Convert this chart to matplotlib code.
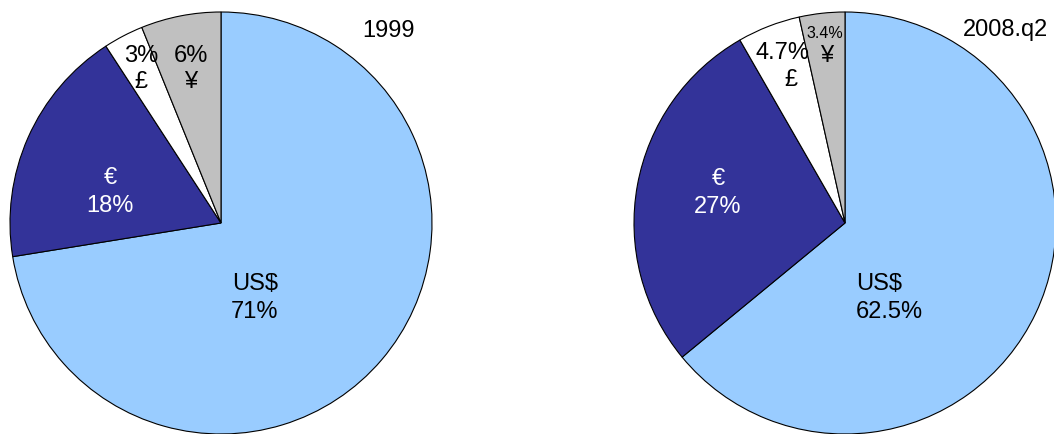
import matplotlib
matplotlib.use("Agg")
import matplotlib.pyplot as plt

plt.rcParams['font.family'] = ['Liberation Sans', 'DejaVu Sans']

currencies = ['US$', '€', '£', '¥']
shares_1999 = [71, 18, 3, 6]
shares_2008 = [62.5, 27, 4.7, 3.4]
titles = ['1999', '2008.q2']

colors = ['#99CCFF', '#333399', '#FFFFFF', '#C0C0C0']
text_colors = ['black', 'white', 'black', 'black']

W, H = 1054, 435
R = 211
centers = [(221, 224), (845, 224)]
FS = 17


def px(cx, cy, x, y):
    # pixel position -> pie data coords
    return (x - cx) / R, (cy - y) / R


fig = plt.figure(figsize=(W / 100, H / 100), dpi=100)

# label anchor points in pixels for the big slices
label_px = [
    {'US$': (255, 298), '€': (110, 192), '£': (141, 69), '¥': (191, 69)},
    {'US$': (856, 298), '€': (718, 193)},
]
spacing = {'US$': 1.38, '€': 1.38, '£': 1.25, '¥': 1.25}

for k, (shares, title) in enumerate(zip([shares_1999, shares_2008], titles)):
    cx, cy = centers[k]
    ax = fig.add_axes([(cx - R) / W, (H - cy - R) / H, 2 * R / W, 2 * R / H])
    ax.pie(shares, colors=colors, startangle=90, counterclock=False,
           radius=1, wedgeprops=dict(edgecolor='black', linewidth=0.8))
    ax.set_xlim(-1, 1)
    ax.set_ylim(-1, 1)
    ax.set_aspect('equal')
    ax.axis('off')

    for name, val, tc in zip(currencies, shares, text_colors):
        pct = f"{val:g}%"
        pos = label_px[k].get(name)
        if pos is None:
            continue
        x, y = px(cx, cy, *pos)
        if name in ('US$', '€'):
            s = f"{name}\n{pct}"
        else:
            s = f"{pct}\n{name}"
        ha = 'left' if (k == 1 and name == 'US$') else 'center'
        ax.text(x, y, s, ha=ha, va='center', color=tc, fontsize=FS,
                linespacing=spacing[name],
                multialignment='left' if ha == 'left' else 'center')

    if k == 1:
        # small slices of 2008 are labelled separately
        x, y = px(cx, cy, 783, 53)
        ax.text(x, y, f"{shares[2]:g}%", ha='center', va='center', fontsize=FS)
        x, y = px(cx, cy, 791, 80)
        ax.text(x, y, currencies[2], ha='center', va='center', fontsize=FS)
        x, y = px(cx, cy, 825, 33)
        ax.text(x, y, f"{shares[3]:g}%", ha='center', va='center', fontsize=11.5)
        x, y = px(cx, cy, 827, 56)
        ax.text(x, y, currencies[3], ha='center', va='center', fontsize=FS)

fig.text(389 / W, 1 - 31 / H, titles[0], ha='center', va='center', fontsize=FS)
fig.text(1005 / W, 1 - 30 / H, titles[1], ha='center', va='center', fontsize=FS)

fig.savefig('out.png', dpi=100)
